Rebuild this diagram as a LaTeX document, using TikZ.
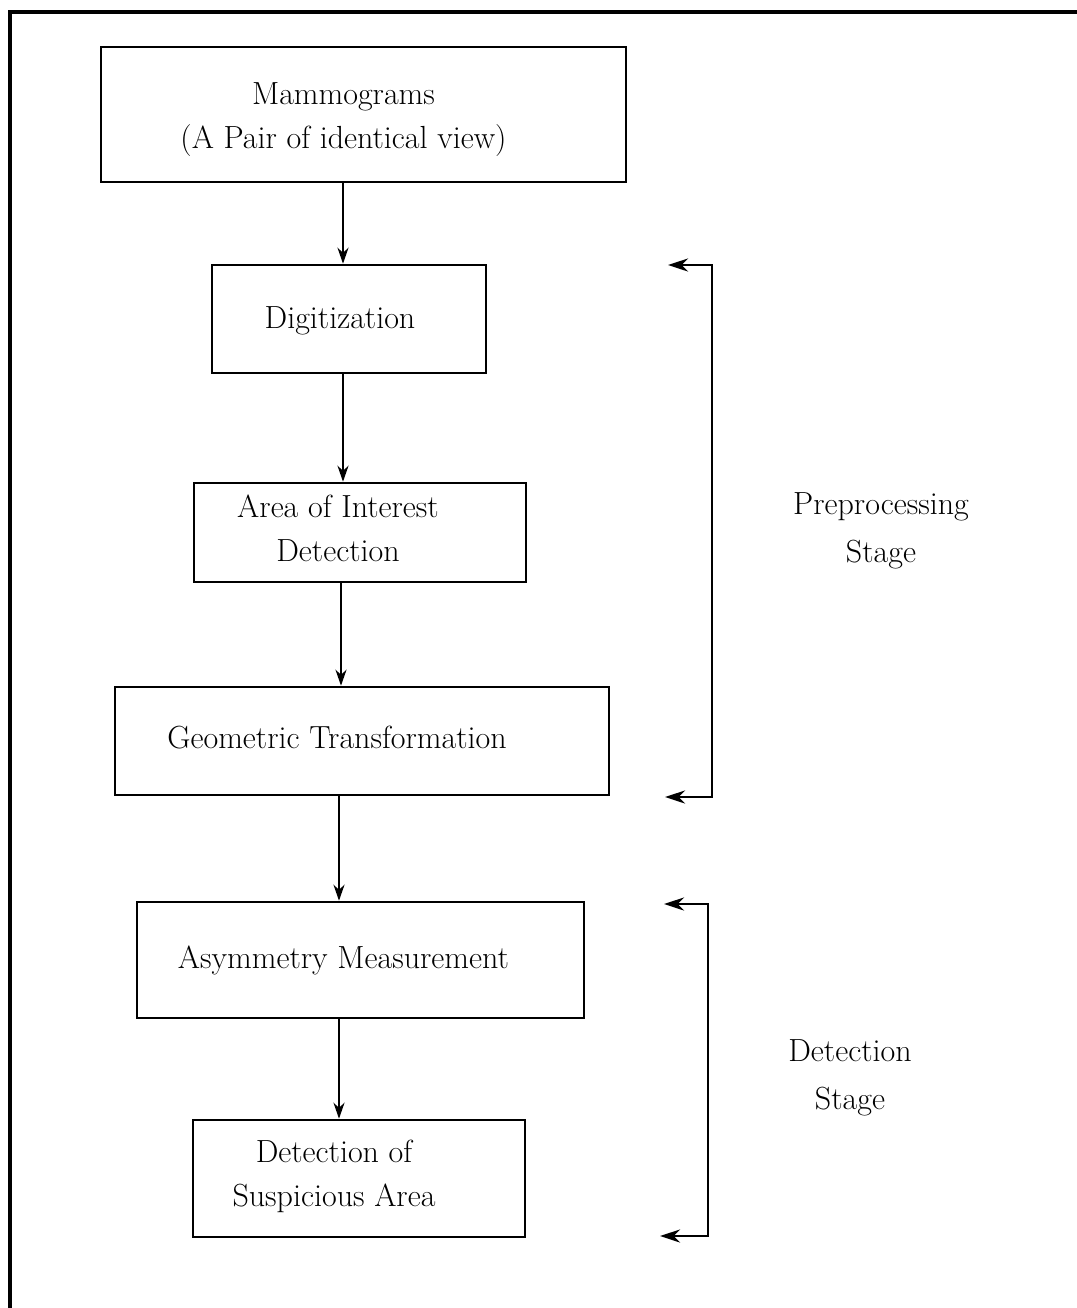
\documentclass[tikz,border=0pt]{standalone}
\usetikzlibrary{arrows.meta}
\begin{document}
\begin{tikzpicture}[x=0.5pt,y=-0.5pt,
  box/.style={draw,line width=1.3pt,rectangle,inner sep=0pt},
  txt/.style={align=center,font=\fontsize{16}{22}\selectfont},
  arr/.style={line width=1.2pt,-{Stealth[length=8pt,width=5.5pt]}},
  brk/.style={line width=1.4pt,{Stealth[length=10pt,width=6.5pt]}-{Stealth[length=10pt,width=6.5pt]}},
  lbl/.style={align=center,font=\fontsize{16}{24}\selectfont}]
\useasboundingbox (0,0) rectangle (1077,1308);
\draw[line width=1.6pt] (10,1310) -- (10,12) -- (1079,12);
\node[box,minimum width=262.5pt,minimum height=67.5pt,
  label={[txt,xshift=-10pt,yshift=-2.5pt]center:Mammograms\\(A Pair of identical view)}] (m) at (363.5,114.5) {};
\node[box,minimum width=137pt,minimum height=54pt,
  label={[txt,xshift=-4.5pt,yshift=-1pt]center:Digitization}] (d) at (349,319) {};
\node[box,minimum width=166pt,minimum height=49.5pt,
  label={[txt,xshift=-11pt,yshift=2pt]center:Area of Interest\\Detection}] (a) at (360,532.5) {};
\node[box,minimum width=247pt,minimum height=54pt,
  label={[txt,xshift=-12.5pt,yshift=1.5pt]center:Geometric Transformation}] (g) at (362,741) {};
\node[box,minimum width=223.5pt,minimum height=58pt,
  label={[txt,xshift=-8.5pt]center:Asymmetry Measurement}] (s) at (360.5,960) {};
\node[box,minimum width=166pt,minimum height=58.5pt,
  label={[txt,xshift=-12.5pt,yshift=1pt]center:Detection of\\Suspicious Area}] (p) at (359,1178.5) {};
\coordinate (c1) at (343,0);
\coordinate (c2) at (341,0);
\coordinate (c3) at (339,0);
\draw[arr] (m.south -| c1) -- (d.north -| c1);
\draw[arr] (d.south -| c1) -- (a.north -| c1);
\draw[arr] (a.south -| c2) -- (g.north -| c2);
\draw[arr] (g.south -| c3) -- (s.north -| c3);
\draw[arr] (s.south -| c3) -- (p.north -| c3);
\coordinate (t1) at (668,265);
\coordinate (u1) at (665,797);
\coordinate (t2) at (664,904);
\coordinate (u2) at (660,1236);
\draw[brk] (t1) -- (712,265) -- (712,797) -- (u1);
\draw[brk] (t2) -- (708,904) -- (708,1236) -- (u2);
\node[lbl] (pl) at (881,531) {Preprocessing\\Stage};
\node[lbl] (dl) at (850,1078) {Detection\\Stage};
\end{tikzpicture}
\end{document}
